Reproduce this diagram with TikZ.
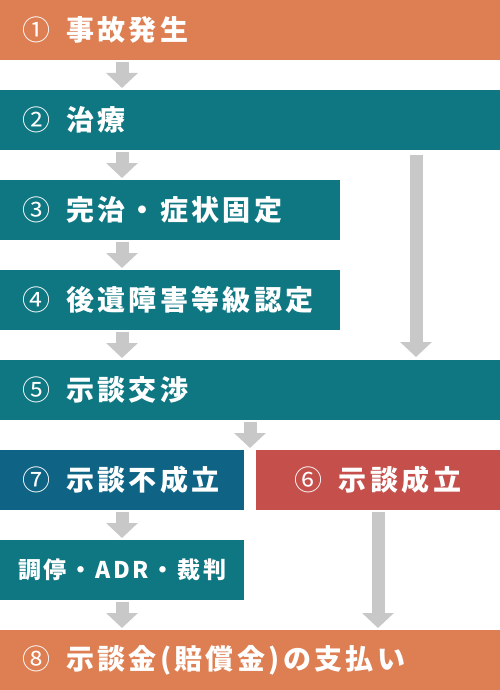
\documentclass[tikz,border=0pt]{standalone}
\usepackage{fontspec}
\setmainfont{Noto Sans CJK JP}[LetterSpace=12]
\usetikzlibrary{arrows.meta,positioning}
\definecolor{stepOrange}{HTML}{DE7F53}
\definecolor{stepTeal}{HTML}{0F7782}
\definecolor{stepBlue}{HTML}{0F6384}
\definecolor{stepRed}{HTML}{C44F4B}
\definecolor{flowGray}{HTML}{C8C8C8}
\newcommand{\stepno}[1]{{\mdseries #1}\hspace{16pt}}

\begin{document}
\begin{tikzpicture}[x=1pt,y=1pt,node distance=30pt,
  box/.style={inner xsep=22pt,inner ysep=0pt,outer sep=0pt,minimum height=60pt,text width=#1,align=left,
    text=white,font=\bfseries\fontsize{28}{30}\selectfont,anchor=north west},
  flow/.style={draw=flowGray,line width=13pt,-{Triangle[width=31pt,length=15pt]},
    shorten <=2pt,shorten >=2pt}]
  \useasboundingbox (0,0) rectangle (500,-690);
  \node[box=456pt,fill=stepOrange] (accident) at (0,0) {\stepno{①}事故発生};
  \node[box=456pt,fill=stepTeal,below=of accident.south west,anchor=north west] (treat) {\stepno{②}治療};
  \node[box=296pt,fill=stepTeal,below=of treat.south west,anchor=north west] (cure) {\stepno{③}完治・症状固定};
  \node[box=296pt,fill=stepTeal,below=of cure.south west,anchor=north west] (grade) {\stepno{④}後遺障害等級認定};
  \node[box=456pt,fill=stepTeal,below=of grade.south west,anchor=north west] (nego) {\stepno{⑤}示談交渉};
  \node[box=200pt,fill=stepBlue,below=of nego.south west,anchor=north west] (fail) {\stepno{⑦}示談不成立};
  \node[box=200pt,fill=stepRed,align=center,below=of nego.south east,anchor=north east] (settle) {\stepno{⑥}示談成立};
  \node[box=208pt,inner xsep=18pt,fill=stepTeal,font=\bfseries\fontsize{23}{26}\selectfont,
    below=of fail.south west,anchor=north west] (adr) {調停・ADR・裁判};
  \node[box=456pt,fill=stepOrange,below=of adr.south west,anchor=north west] (pay) {\stepno{⑧}示談金(賠償金)の支払い};
  % arrows
  \draw[flow] ([xshift=122pt]accident.south west) -- ([xshift=122pt]treat.north west);
  \draw[flow] ([xshift=122pt]treat.south west) -- ([xshift=122pt]cure.north west);
  \draw[flow] ([xshift=122pt]cure.south west) -- ([xshift=122pt]grade.north west);
  \draw[flow] ([xshift=122pt]grade.south west) -- ([xshift=122pt]nego.north west);
  \draw[flow,shorten <=5pt,shorten >=3pt] ([xshift=416pt]treat.south west) -- ([xshift=416pt]nego.north west);
  \draw[flow] (nego.south) -- (nego.south |- fail.north);
  \draw[flow] (fail.south) -- (adr.north);
  \draw[flow] (adr.south) -- (adr.south |- pay.north);
  \draw[flow] (settle.south) -- (settle.south |- pay.north);
\end{tikzpicture}
\end{document}
